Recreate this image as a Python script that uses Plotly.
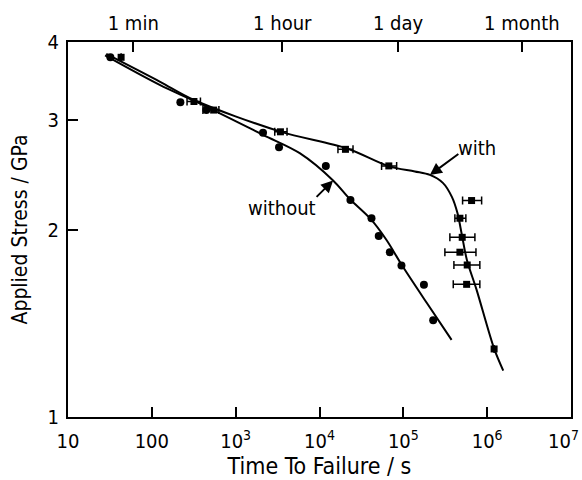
import numpy as np
import plotly.graph_objects as go

# Creep-rupture data: time to failure (s) vs applied stress (GPa)
without_time = [32, 219, 447, 2120, 3290, 11900, 23400, 41700, 50900, 69000, 95000, 176000, 227000]
without_stress = [3.78, 3.20, 3.11, 2.86, 2.71, 2.53, 2.23, 2.085, 1.953, 1.839, 1.75, 1.631, 1.43]

with_time = [43, 318, 546, 3420, 20400, 67100, 652000, 473000, 504000, 473000, 578000, 569000, 1210000]
with_stress = [3.78, 3.21, 3.11, 2.87, 2.69, 2.53, 2.226, 2.085, 1.943, 1.839, 1.754, 1.633, 1.286]
with_time_low = [43, 263, 407, 2925, 16600, 55000, 509000, 412000, 359000, 313000, 401000, 394000, 1210000]
with_time_high = [43, 380, 631, 4100, 25100, 83200, 859000, 557000, 714000, 735000, 818000, 818000, 1210000]

# Hand-drawn trend curves through each data set
with_fit_time = [28.6, 124, 318, 3418, 20980, 67700, 137200, 207300, 296200, 379400,
                 441400, 499400, 573100, 748200, 1214000, 1555000]
with_fit_stress = [3.828, 3.456, 3.228, 2.872, 2.701, 2.526, 2.479, 2.447, 2.376, 2.256,
                   2.127, 1.960, 1.787, 1.600, 1.286, 1.187]
without_fit_time = [27.7, 124, 340, 2118, 5810, 14520, 22970, 40700, 63000, 95900, 190900, 376300]
without_fit_stress = [3.807, 3.414, 3.205, 2.838, 2.652, 2.398, 2.239, 2.080, 1.924, 1.754, 1.524, 1.33]

x_tick_vals = [10, 100, 1e3, 1e4, 1e5, 1e6, 1e7]
x_tick_text = ["10", "100", "10<sup>3</sup>", "10<sup>4</sup>", "10<sup>5</sup>", "10<sup>6</sup>", "10<sup>7</sup>"]
top_tick_vals = [60, 3600, 86400, 2592000]
top_tick_text = ["1 min", "1 hour", "1 day", "1 month"]
y_tick_vals = [1, 2, 3, 4]
y_tick_text = ["1", "2", "3", "4"]

FONT = "DejaVu Sans Condensed, Liberation Sans Narrow, Roboto, sans-serif"

err_plus = [h - t for h, t in zip(with_time_high, with_time)]
err_minus = [t - l for t, l in zip(with_time, with_time_low)]

fig = go.Figure()

fig.add_trace(go.Scatter(
    x=with_fit_time, y=with_fit_stress, mode="lines",
    line=dict(color="black", width=2, shape="spline", smoothing=0.9),
    hoverinfo="skip", showlegend=False))
fig.add_trace(go.Scatter(
    x=without_fit_time, y=without_fit_stress, mode="lines",
    line=dict(color="black", width=2, shape="spline", smoothing=0.9),
    hoverinfo="skip", showlegend=False))

fig.add_trace(go.Scatter(
    x=with_time, y=with_stress, mode="markers", name="with",
    marker=dict(symbol="square", size=7, color="black"),
    error_x=dict(type="data", symmetric=False, array=err_plus, arrayminus=err_minus,
                 color="black", thickness=1.5, width=4),
    showlegend=False))
fig.add_trace(go.Scatter(
    x=without_time, y=without_stress, mode="markers", name="without",
    marker=dict(symbol="circle", size=8, color="black"),
    showlegend=False))

# invisible trace so the top time axis is drawn
fig.add_trace(go.Scatter(x=[10], y=[1], xaxis="x2", mode="markers",
                         marker=dict(opacity=0), hoverinfo="skip", showlegend=False))

x_range = [1, 7]
# the last bottom label sits at the page edge; it is drawn as a right-anchored note instead
bottom_text = x_tick_text[:-1] + [""]

fig.update_layout(
    width=582, height=480,
    margin=dict(l=68, r=11, t=42, b=63, autoexpand=False),
    paper_bgcolor="white", plot_bgcolor="white",
    font=dict(family=FONT, color="black", size=19),
    xaxis=dict(
        type="log", range=x_range, tickvals=x_tick_vals, ticktext=bottom_text,
        ticks="inside", ticklen=10, tickwidth=1.5, tickcolor="black",
        showline=True, linewidth=2, linecolor="black", showgrid=False, zeroline=False,
        tickfont=dict(size=20), ticklabelstandoff=5, ticklabeloverflow="allow",
        automargin=False,
        title=dict(text="Time To Failure / s", font=dict(size=23), standoff=2),
    ),
    xaxis2=dict(
        type="log", range=x_range, overlaying="x", side="top",
        tickvals=top_tick_vals, ticktext=top_tick_text,
        ticks="inside", ticklen=10, tickwidth=1.5, tickcolor="black",
        showline=True, linewidth=2, linecolor="black", showgrid=False, zeroline=False,
        tickfont=dict(size=20), ticklabelstandoff=2, ticklabeloverflow="allow",
        automargin=False,
    ),
    yaxis=dict(
        type="log", range=[0, np.log10(4)], tickvals=y_tick_vals, ticktext=y_tick_text,
        ticks="inside", ticklen=10, tickwidth=1.5, tickcolor="black",
        showline=True, mirror=True, linewidth=2, linecolor="black",
        showgrid=False, zeroline=False, tickfont=dict(size=20), ticklabelstandoff=3,
        ticklabeloverflow="allow", automargin=False,
        title=dict(text="Applied Stress / GPa", font=dict(size=21), standoff=14),
    ),
)

fig.add_annotation(x=1, xref="paper", y=0, yref="paper", text=x_tick_text[-1],
                   showarrow=False, xanchor="right", yanchor="top", xshift=10, yshift=-8,
                   font=dict(size=20))

# curve labels with arrows
fig.add_annotation(x=np.log10(207300), y=np.log10(2.447), text="", showarrow=True,
                   ax=30, ay=-22, arrowhead=2, arrowsize=1.2, arrowwidth=2, arrowcolor="black")
fig.add_annotation(x=np.log10(755000), y=np.log10(2.70), text="with", showarrow=False,
                   font=dict(size=20))
fig.add_annotation(x=np.log10(14520), y=np.log10(2.398), text="", showarrow=True,
                   ax=-18, ay=18, arrowhead=2, arrowsize=1.2, arrowwidth=2, arrowcolor="black")
fig.add_annotation(x=np.log10(3590), y=np.log10(2.163), text="without", showarrow=False,
                   font=dict(size=20))

fig.write_html("out.html")
